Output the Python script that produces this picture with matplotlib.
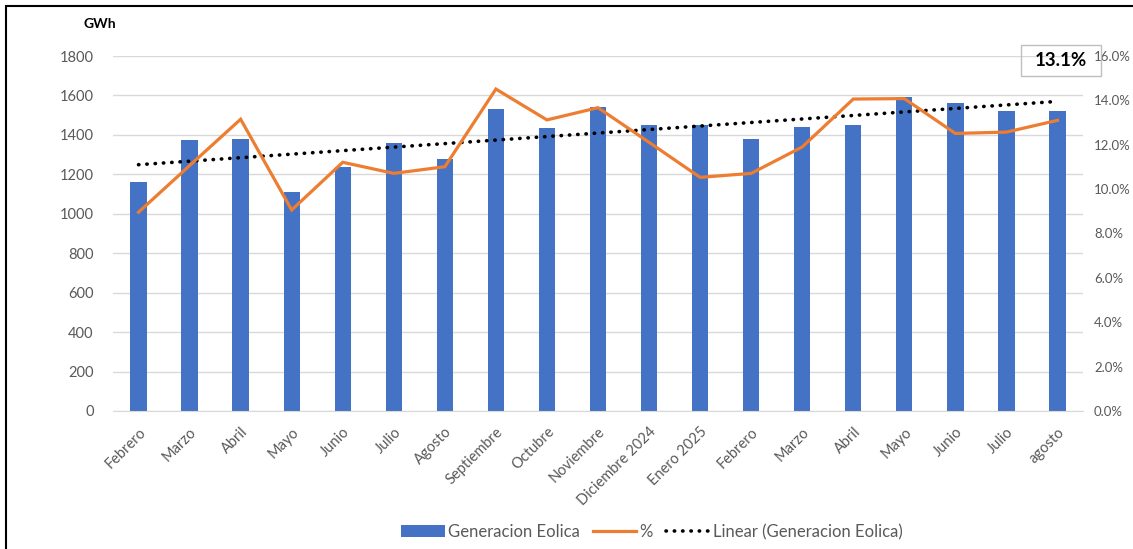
import numpy as np
import matplotlib
matplotlib.use("Agg")
import matplotlib.pyplot as plt
from matplotlib.patches import Rectangle
from matplotlib.ticker import FuncFormatter, MultipleLocator

# monthly wind generation (GWh) and share (%)
months = ["Febrero", "Marzo", "Abril", "Mayo", "Junio", "Julio", "Agosto",
          "Septiembre", "Octubre", "Noviembre", "Diciembre 2024", "Enero 2025",
          "Febrero", "Marzo", "Abril", "Mayo", "Junio", "Julio", "agosto"]
gen_eolica = [1163, 1373, 1378, 1110, 1238, 1361, 1277, 1531, 1434, 1541,
              1450, 1452, 1378, 1440, 1449, 1594, 1562, 1523, 1523]
pct = [8.96, 11.06, 13.15, 9.06, 11.21, 10.71, 11.01, 14.51, 13.12, 13.67,
       12.11, 10.53, 10.71, 11.9, 14.06, 14.08, 12.51, 12.57, 13.1]

W, H = 1133, 549
plt.rcParams['font.family'] = ['Lato', 'DejaVu Sans']
grey = '#595959'

fig = plt.figure(figsize=(W / 100, H / 100), dpi=100)
ax = fig.add_axes([113 / W, 1 - 411 / H, (1083 - 113) / W, (411 - 56) / H])
ax2 = ax.twinx()

x = np.arange(len(months))
ax.bar(x, gen_eolica, width=0.32, color='#4472C4', zorder=2,
       label='Generacion Eolica')

# linear trend of the bars
k, b = np.polyfit(x, gen_eolica, 1)
ax.plot(x, k * x + b, color='black', linestyle=(0, (0.1, 2.2)),
        dash_capstyle='round', linewidth=2.6, zorder=3,
        label='Linear (Generacion Eolica)')

ax2.plot(x, np.array(pct) / 100, color='#ED7D31', linewidth=2.3,
         solid_joinstyle='miter', label='%')

ax.set_xlim(-0.5, len(months) - 0.5)
ax.set_ylim(0, 1800)
ax.yaxis.set_major_locator(MultipleLocator(200))
ax2.set_ylim(0, 0.16)
ax2.yaxis.set_major_locator(MultipleLocator(0.02))
ax2.yaxis.set_major_formatter(FuncFormatter(lambda v, p: f"{v * 100:.1f}%"))

ax.grid(axis='y', color='#d9d9d9', linewidth=1, zorder=0)
ax.set_axisbelow(True)
for a in (ax, ax2):
    for s in a.spines.values():
        s.set_visible(False)
ax.spines['bottom'].set_visible(True)
ax.spines['bottom'].set_color('#d9d9d9')

ax.tick_params(axis='y', length=0, pad=14, labelsize=10.5, labelcolor=grey)
ax2.tick_params(axis='y', length=0, pad=8, labelsize=9.5, labelcolor=grey)
ax.set_xticks(x)
ax.set_xticklabels(months, rotation=45, ha='right', rotation_mode='anchor')
ax.tick_params(axis='x', length=0, pad=10, labelsize=10.5, labelcolor=grey)

fig.text(83 / W, 1 - 24 / H, "GWh", fontsize=10, fontweight='bold',
         color='black', va='center', ha='left')

# value box for the last share
fig.patches.append(Rectangle((1021 / W, 1 - 76 / H), 80 / W, 31 / H,
                             transform=fig.transFigure, fill=False,
                             edgecolor='#bfbfbf', linewidth=1))
fig.text(1061 / W, 1 - 61 / H, f"{pct[-1]:.1f}%", fontsize=13.5,
         fontweight='bold', color='black', ha='center', va='center')

# outer chart border (left and top visible)
fig.patches.append(Rectangle((6 / W, -0.1), 1.2, 1.1 - 6 / H,
                             transform=fig.transFigure, fill=False,
                             edgecolor='black', linewidth=1.5))

h1, l1 = ax.get_legend_handles_labels()
h2, l2 = ax2.get_legend_handles_labels()
handles = [h1[1], h2[0], h1[0]]
labels = [l1[1], l2[0], l1[0]]
fig.legend(handles, labels, loc='center', ncol=3,
           bbox_to_anchor=(652 / W, 1 - 532 / H), frameon=False,
           fontsize=12, labelcolor=grey, handlelength=2.6,
           handletextpad=0.2, columnspacing=0.8)

fig.savefig("out.png", dpi=100)
